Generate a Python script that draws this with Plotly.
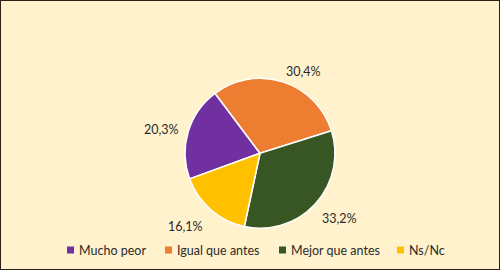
import plotly.graph_objects as go

labels = ["Mucho peor", "Igual que antes", "Mejor que antes", "Ns/Nc"]
values = [20.3, 30.4, 33.2, 16.1]
text_labels = ["20,3%", "30,4%", "33,2%", "16,1%"]
colors = ["#7030A0", "#ED7D31", "#375623", "#FFC000"]

W, H = 500, 270
FONT = "Lato"
TXT = "#2b2b2b"

# data-label positions (pixel centres, layout only)
label_pos = [(161.5, 130), (303, 71), (339, 218), (185.5, 226)]
# legend square left edges (pixels)
legend_x = [67, 165, 279, 397]
legend_y = 250
SQ = 7

fig = go.Figure(go.Pie(
    labels=labels, values=values,
    textinfo="none", showlegend=False,
    sort=False, direction="clockwise", rotation=250,
    marker=dict(colors=colors, line=dict(color="white", width=1.5)),
    domain=dict(x=[0.2, 0.84], y=[0.155, 0.71]),
    hoverinfo="label+percent",
))

annotations = []
shapes = [dict(type="rect", xref="paper", yref="paper", x0=0, y0=0, x1=1, y1=1,
               line=dict(color="#2a2015", width=2))]
for t, (px, py) in zip(text_labels, label_pos):
    annotations.append(dict(
        text=t, x=px / W, y=1 - py / H, xref="paper", yref="paper",
        xanchor="center", yanchor="middle", showarrow=False,
        font=dict(family=FONT, size=12.5, color=TXT),
    ))
for lab, col, px in zip(labels, colors, legend_x):
    shapes.append(dict(
        type="rect", xref="paper", yref="paper",
        x0=px / W, x1=(px + SQ) / W,
        y0=1 - (legend_y + SQ / 2) / H, y1=1 - (legend_y - SQ / 2) / H,
        fillcolor=col, line=dict(width=0),
    ))
    annotations.append(dict(
        text=lab, x=(px + SQ + 3) / W, y=1 - legend_y / H, xref="paper", yref="paper",
        xanchor="left", yanchor="middle", showarrow=False,
        font=dict(family=FONT, size=12.5, color=TXT),
    ))

fig.update_layout(
    width=W, height=H,
    margin=dict(l=0, r=0, t=0, b=0),
    paper_bgcolor="#FFF2CC", plot_bgcolor="#FFF2CC",
    font=dict(family=FONT, size=12.5, color=TXT),
    annotations=annotations,
    shapes=shapes,
)
fig.write_html("out.html")
